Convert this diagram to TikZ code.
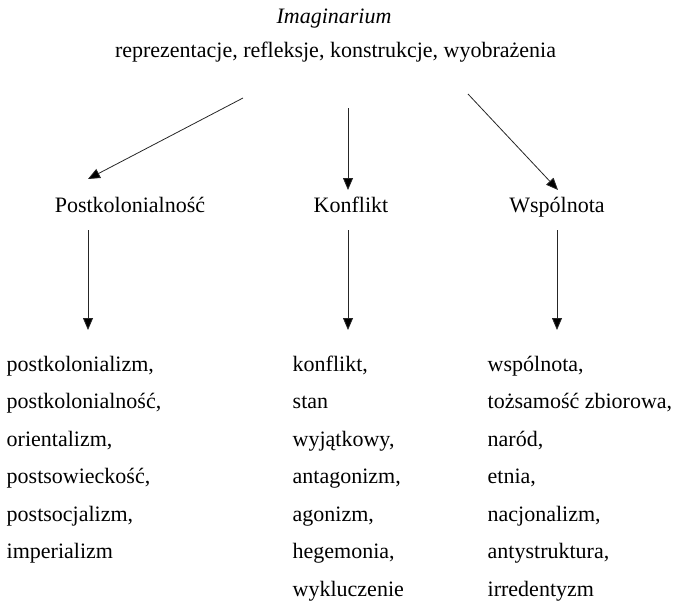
\documentclass[tikz,border=0pt]{standalone}
\usepackage{fontspec}
\setmainfont{Liberation Serif}
\usetikzlibrary{arrows.meta}
\begin{document}
\begin{tikzpicture}[x=1pt,y=-1pt,
  txt/.style={inner sep=0pt, font=\fontsize{22}{26}\selectfont},
  item/.style={txt, anchor=base west},
  head/.style={txt, anchor=base},
  arr/.style={draw=black!85, line width=0.8pt, -{Triangle[length=12pt,width=10pt,fill=black]}}]
\useasboundingbox (0,0) rectangle (674,602);
% titles
\node[head] (title) at (334,24) {\textit{Imaginarium}};
\node[head] (sub) at (335.5,57) {reprezentacje, refleksje, konstrukcje, wyobrażenia};
% headers
\node[head] (hp) at (130,212) {Postkolonialność};
\node[head] (hk) at (351,212) {Konflikt};
\node[head] (hw) at (557,212) {Wspólnota};
% arrow end points
\coordinate (s1) at (243,98);  \coordinate (e1) at (88,179);
\coordinate (s2) at (348,108); \coordinate (e2) at (348,190);
\coordinate (s3) at (468,94);  \coordinate (e3) at (558,190);
\coordinate (d1s) at (88,230);  \coordinate (d1e) at (88,330);
\coordinate (d2s) at (348,230); \coordinate (d2e) at (348,330);
\coordinate (d3s) at (557,230); \coordinate (d3e) at (557,330);
\draw[arr] (s1) -- (e1);
\draw[arr] (s2) -- (e2);
\draw[arr] (s3) -- (e3);
\draw[arr] (d1s) -- (d1e);
\draw[arr] (d2s) -- (d2e);
\draw[arr] (d3s) -- (d3e);
% lists
\foreach \t [count=\i] in {postkolonializm{,}, postkolonialność{,}, orientalizm{,}, postsowieckość{,}, postsocjalizm{,}, imperializm}
  \node[item] (l\i) at (6.5,{371+37.5*(\i-1)}) {\t};
\foreach \t [count=\i] in {konflikt{,}, stan, wyjątkowy{,}, antagonizm{,}, agonizm{,}, hegemonia{,}, wykluczenie}
  \node[item] (m\i) at (292.5,{371+37.5*(\i-1)}) {\t};
\foreach \t [count=\i] in {wspólnota{,}, tożsamość zbiorowa{,}, naród{,}, etnia{,}, nacjonalizm{,}, antystruktura{,}, irredentyzm}
  \node[item] (r\i) at (487.5,{371+37.5*(\i-1)}) {\t};
\end{tikzpicture}
\end{document}
